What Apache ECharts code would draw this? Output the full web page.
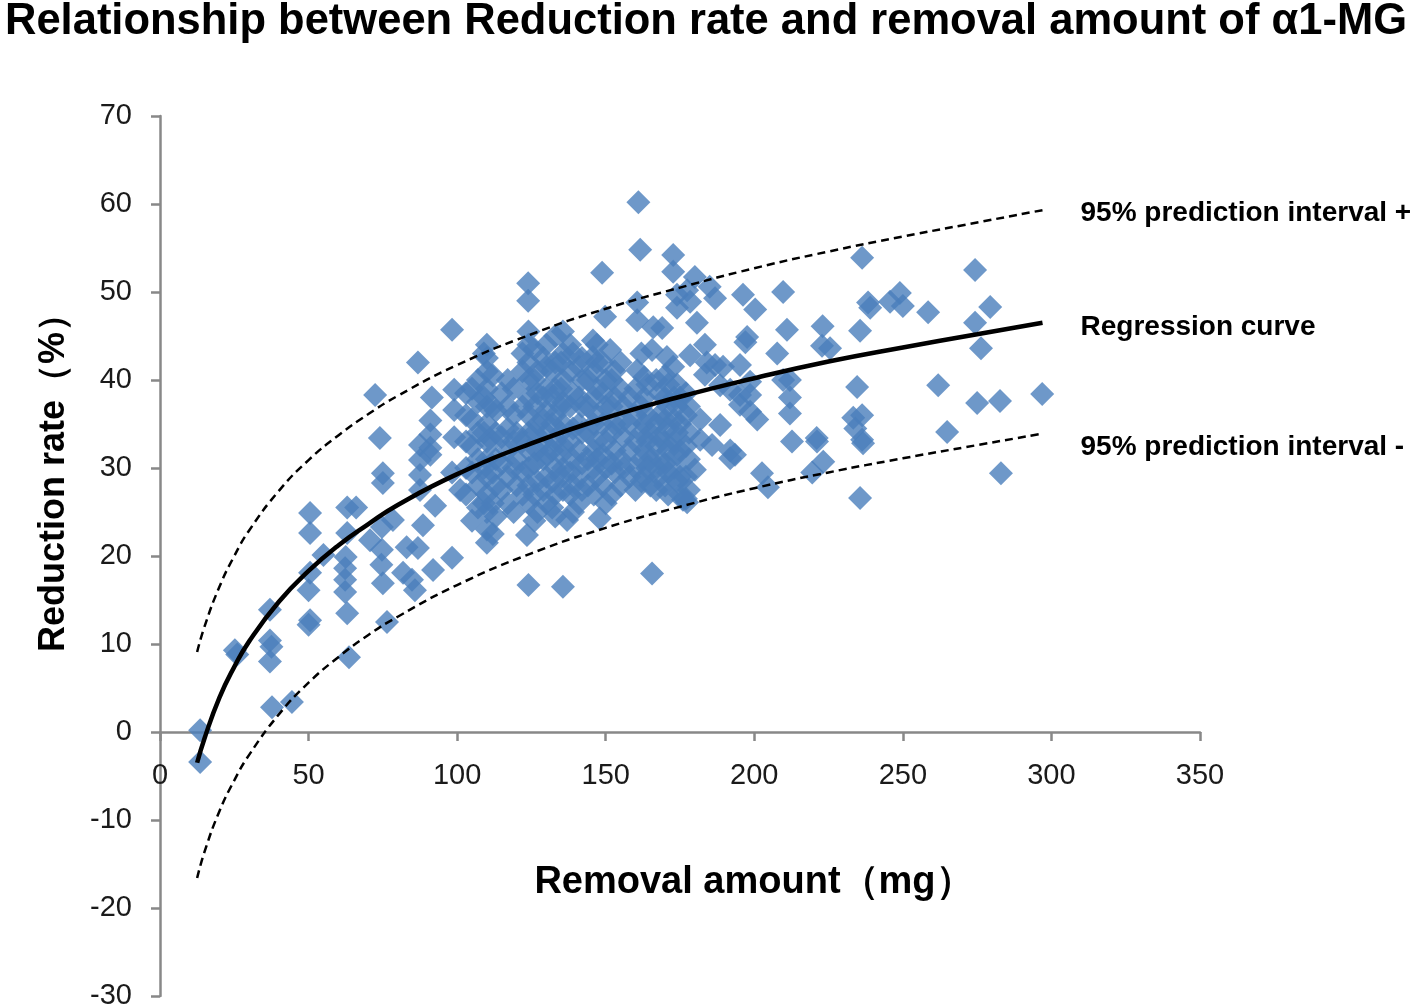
<!DOCTYPE html>
<html>
<head>
<meta charset="utf-8">
<script src="https://cdn.jsdelivr.net/npm/echarts@6/dist/echarts.min.js"></script>
<style>
html,body{margin:0;padding:0;background:#fff;}
#chart{width:1418px;height:1007px;}
</style>
</head>
<body>
<div id="chart"></div>
<script>
// ---- Data ----
const removalAmount = [
13.5,13.5,25.2,26,37,37,37.5,37,37.7,44.4,50.5,50.5,50.5,50,50.5,50,55,63,66,63,62.5,62.3,62.3,62.3,63,63.6,
72.4,74,75,75,70.7,78.4,74.7,74.7,74.5,75,76.4,81.8,83,84.8,85.8,86.8,86.8,87.5,87.5,87.5,87.5,88.5,
91,91,91,91,91.5,91.9,92.6,98.3,99,99,99,98.3,98.3,101,
103,103,103,103,103,
107,107,107,107,107,107,
110,110,110,110,110,110,110,110,110,110,110,110,110,
113,113,113,113,113,
117,117,117,117,117,117,
120,120,120,
124,123.5,124,124,124,124,124,124,124,124,124,124,124,123.9,123.9,
127,127,127,127,127,127,
130,130,130,130,130,130,130,130,
133,133,133,133,133,133,133,133,
135.6,137,135.6,135.6,135.6,135.6,135.6,135.6,135.6,135.6,
138,138,138,138,138,138,
141,141,141,141,141,141,
144,144,144,144,144,145.7,145.7,
148,147,147,147,147,147,147,147,148.8,151.5,
150,150,150,150,150,149.8,
153,153,153,153,153,
156,156,156,
160,160,160,160,160,160.6,160.6,160.6,161.6,161,
163,163,163,163,163,
165.6,165,165,165,165.6,166,
168,168,168,168,168,169,
170,170,170,170,170,170,170.6,
173,173,173,173,172.7,172.7,172.7,174,174,
175,175,175,175,175,176,
177.4,178,178,178,178,177.4,178.4,180,180.7,180,178.4,
181.8,181.8,183.4,183.4,184,185.8,185,186.8,186.8,188.5,188.5,189.5,191.9,191.9,191.9,193.5,
195.2,195.2,195.2,196.2,197.6,197,198.6,198.6,198.6,200.3,201,202.6,204.6,
207.7,209.7,209.7,211,212,212,212,212.7,
219.5,221,221.1,223,223.2,222.8,225.5,
233.3,234,234.6,235.6,235.6,236.3,236.3,236.6,236.3,238.3,239,245.7,249,250,258.5,261.9,264.9,
274.3,274.3,275,276.3,279.4,282.7,283,296.9,
105,105,105,105,105,
109,109,109,109,109,
112,112,112,112,112,112,
115,115,115,115,
119,119,119,119,119,
122,122,122,122,122,122,
126,126,126,126,126,126,126,
129,129,129,129,129,129,
132,132,132,132,132,132,
135,135,135,135,135,135,
139,139,139,139,139,139,
142,142,142,142,142,142,
146,146,146,146,146,146,
149,149,149,149,149,
152,152,152,152,152,
155,155,155,155,155,
158,158,158,158,
162,162,162,162,162,
164,164,164,164,
167,167,167,167,167,
171,171,171,171,171,171,
174,174,174,174,174,
177,177,177,177,177
];
const reductionRate = [
0.2,-3.4,9.3,8.8,13.9,10.4,9.7,8.0,2.8,3.4,24.9,22.6,18.1,16.1,12.7,12.2,20.1,25.5,25.5,22.6,19.9,18.6,17.3,15.9,13.5,8.5,
38.3,33.4,29.4,28.3,21.8,24.1,23.3,20.7,19.0,16.9,12.5,18.1,21.0,17.3,16.1,20.9,42.0,32.6,30.9,29.2,27.5,23.5,
35.4,33.8,32.3,31.5,38.0,18.4,25.7,45.7,38.9,36.6,33.5,29.5,19.8,27.5,
27,30,33,36,38.5,
25.5,28,31,34,37.5,40,
21.5,23,25,27,29,31,33,35,37,39,41,42.5,44,
24.5,28,31,34,36.5,
26,29,32,34.5,37,40,
28,31,34,
16.7,22.4,26,28,30,32,34,36,38,40,42,44,45.5,49,51,
25,28.5,32,35,38.5,41,
26,29,31.5,34,36.5,39,41.5,44,
24.5,27,30,33,36,39,42,45,
16.5,24.1,27.5,30,32.5,35,37.5,40,43,45.5,
27,29.5,33,37,41,44,
26,29,32,35,38,41.5,
28,31,34,37,40,44.5,42.6,
24.3,29,31,33,36,39,42,44,52.2,43.4,
26,30,33,37,40,47.2,
29.5,32,35,38,41,
30,33.5,37,
27.5,30,33,36,39,41.1,48.8,46.8,54.8,60.2,
29,32,35,38,40.3,
18,28,31,34,43.4,46,
29,31,33.5,36,38.5,45.9,
28,30.5,33,35.5,38,40.5,42.6,
30,33,35.5,38,41.5,54.2,52.3,49.7,48.2,
27,29,32,35,38,26.4,
26.1,27.5,31,34,37,50.2,48.9,51.7,46.5,29.8,42.8,
35.5,33.2,40.6,44,42,32.6,50.6,49.3,41.7,39.4,34.9,41.5,38.9,32,31.1,31.5,
41.7,38.3,37.2,49.7,44.9,44.3,39.8,38.3,36.4,48,35.5,29.4,27.8,
43,40,50,45.7,40,38,36.2,33,
29.5,33.4,33,46.1,30.7,43.9,43.6,
35.7,34.5,39.2,45.6,26.6,53.9,36,32.8,33.2,48.8,48.2,48.9,49.9,48.4,47.7,39.4,34.1,
52.5,46.5,37.4,43.6,48.3,37.6,29.4,38.4,
24,29.5,32.5,35.5,39,
26,30,34,38,43,
22.5,26,29.5,33,37,40.5,
27.5,30.5,33.5,38.5,
25,30,33,36,39,
27,29.5,33,37,41,43,
24,27,30.5,34,37,40,43.5,
27.5,31,33,35.5,38,42.5,
25.5,28.5,32,35,38,41,
29,31.5,34,37,39,42,
25,28,31,34.5,38.5,43,
27.5,30.5,34,37,40,42.5,
27,30,32,35,38,41,
28,31.5,35,38.5,42,
27,30.5,34,37,40,
28,31,35,39,42,
29,32,35,38,
28.5,31,34,37,43,
30,33,36,39.5,
27.5,30,32.5,35,40,
27,29.5,32,34.5,37,39.5,
28.5,31.5,34,37,39.5,
26.5,29,32.5,36,38.5
];
const curveX = [12.5,15,20,25,30,40,50,60,70,80,100,125,150,175,200,225,250,275,297];
const regressionY = [-3.5,-0.7,3.9,7.4,10.3,14.8,18.3,21.2,23.6,25.8,29.3,32.8,35.7,38.1,40.2,42.1,43.7,45.2,46.5];
const upperY = [9.1,12.0,16.5,20.0,22.9,27.4,30.9,33.7,36.1,38.2,41.7,45.2,48.1,50.5,52.7,54.6,56.3,57.9,59.3];
const lowerY = [-16.6,-13.6,-9.0,-5.5,-2.6,2.0,5.6,8.5,11.0,13.1,16.7,20.3,23.2,25.6,27.7,29.5,31.1,32.6,33.9];
const titleText = 'Relationship between Reduction rate and removal amount of α1-MG';
const xName = 'Removal amount（mg）';
const yName = 'Reduction rate（%）';

// ---- Chart ----
const points = removalAmount.map((x, i) => [x, reductionRate[i]]);
const zip = ys => curveX.map((x, i) => [x, ys[i]]);
const sans = "'Liberation Sans', Arial, sans-serif";
const chart = echarts.init(document.getElementById('chart'), null, {renderer: 'canvas'});
const endLabel = dy => ({
  show: true, formatter: '{a}', distance: 38, offset: [0, dy],
  fontFamily: sans, fontWeight: 'bold', fontSize: 28, color: '#000'
});
chart.setOption({
  animation: false,
  backgroundColor: '#fff',
  title: {
    text: titleText, left: 0, top: -5,
    textStyle: {fontFamily: sans, fontWeight: 'bold', fontSize: 43.5, color: '#000'}
  },
  grid: {left: 160, right: 218, top: 116, bottom: 11, containLabel: false, outerBoundsMode: 'none'},
  xAxis: {
    type: 'value', min: 0, max: 350, interval: 50,
    offset: -264,
    axisLine: {show: true, onZero: false, lineStyle: {color: '#888', width: 2.5}},
    axisTick: {show: true, length: 9, lineStyle: {color: '#888', width: 2.5}},
    axisLabel: {margin: 29, fontFamily: sans, fontSize: 29, color: '#1a1a1a'},
    splitLine: {show: false}
  },
  yAxis: {
    type: 'value', min: -30, max: 70, interval: 10,
    axisLine: {show: true, lineStyle: {color: '#888', width: 2.5}},
    axisTick: {show: true, length: 9, lineStyle: {color: '#888', width: 2.5}},
    axisLabel: {margin: 28, fontFamily: sans, fontSize: 29, color: '#1a1a1a'},
    splitLine: {show: false}
  },
  graphic: [
    {type: 'text', x: 754, y: 883, style: {text: xName, fontFamily: sans, fontWeight: 'bold', fontSize: 38, fill: '#000', align: 'center', verticalAlign: 'middle'}},
    {type: 'text', x: 54, y: 474, rotation: Math.PI / 2, style: {text: yName, fontFamily: sans, fontWeight: 'bold', fontSize: 36, fill: '#000', align: 'center', verticalAlign: 'middle'}}
  ],
  series: [
    {
      name: 'Measured', type: 'scatter', data: points,
      symbol: 'diamond', symbolSize: 24,
      itemStyle: {color: '#4A7EBB'}, z: 2
    },
    {
      name: '95% prediction interval +', type: 'line', data: zip(upperY), smooth: true,
      showSymbol: false, lineStyle: {color: '#000', width: 2.5, type: [8, 5]}, z: 3,
      endLabel: endLabel(3)
    },
    {
      name: 'Regression curve', type: 'line', data: zip(regressionY), smooth: true,
      showSymbol: false, lineStyle: {color: '#000', width: 4.5}, z: 4,
      endLabel: endLabel(4)
    },
    {
      name: '95% prediction interval -', type: 'line', data: zip(lowerY), smooth: true,
      showSymbol: false, lineStyle: {color: '#000', width: 2.5, type: [8, 5]}, z: 3,
      endLabel: endLabel(14)
    }
  ]
});
</script>
</body>
</html>
